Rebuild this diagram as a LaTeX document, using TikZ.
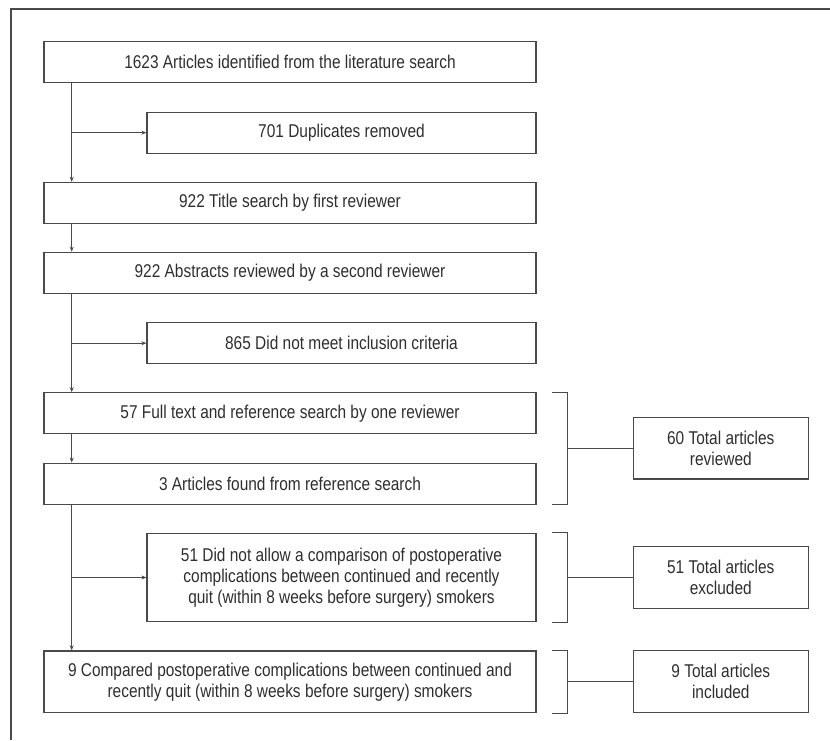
\documentclass[tikz,border=0pt]{standalone}
\usepackage{fontspec}
\setmainfont{Liberation Sans}[FakeStretch=0.835]
\usetikzlibrary{arrows.meta}
\definecolor{txt}{HTML}{2E2E2E}
\definecolor{ln}{HTML}{4A4A4A}
\tikzset{
  box/.style={draw=ln, line width=1.2pt, rectangle, inner sep=0pt, align=center,
    text=txt, font=\fontsize{18.5}{21}\selectfont},
  wide/.style={box, minimum width=492pt, minimum height=41pt},
  side/.style={box, minimum width=389pt, minimum height=41pt},
  tot/.style={box, minimum width=175pt, minimum height=61.7pt},
  conn/.style={draw=ln, line width=1.2pt},
  arr/.style={conn, -{Stealth[length=5pt,width=4pt]}},
}
\begin{document}
\begin{tikzpicture}[x=1pt,y=-1pt]
\useasboundingbox (0,0) rectangle (830,740);
\draw[conn, line width=1.4pt] (11,740) -- (11,9) -- (830,9);

\coordinate (t) at (71.7,0);
\coordinate (bl) at (552.3,0);
\coordinate (br) at (567.3,0);

\node[wide] (b1) at (290,62.2) {1623 Articles identified from the literature search};
\node[side] (b2) at (341.5,132.7) {701 Duplicates removed};
\node[wide] (b3) at (290,202.9) {922 Title search by first reviewer};
\node[wide] (b4) at (290,272.8) {922 Abstracts reviewed by a second reviewer};
\node[side] (b5) at (341.5,343.2) {865 Did not meet inclusion criteria};
\node[wide] (b6) at (290,413.3) {57 Full text and reference search by one reviewer};
\node[wide] (b7) at (290,483.7) {3 Articles found from reference search};
\node[side, minimum height=88.4pt] (b8) at (341.5,577.5) {51 Did not allow a comparison of postoperative\\complications between continued and recently\\quit (within 8 weeks before surgery) smokers};
\node[wide, minimum height=61.7pt] (b9) at (290,681.8) {9 Compared postoperative complications between continued and\\recently quit (within 8 weeks before surgery) smokers};

\node[tot] (r1) at (720.8,448.2) {60 Total articles\\reviewed};
\node[tot] (r2) at (720.8,577.5) {51 Total articles\\excluded};
\node[tot] (r3) at (720.8,681.6) {9 Total articles\\included};

\draw[arr] (b1.south -| t) -- (b3.north -| t);
\draw[arr] (b2.west -| t) -- (b2.west);
\draw[arr] (b3.south -| t) -- (b4.north -| t);
\draw[arr] (b4.south -| t) -- (b6.north -| t);
\draw[arr] (b5.west -| t) -- (b5.west);
\draw[arr] (b6.south -| t) -- (b7.north -| t);
\draw[arr] (b7.south -| t) -- (b9.north -| t);
\draw[arr] (b8.west -| t) -- (b8.west);

\draw[conn] (b6.north -| bl) -- (b6.north -| br) -- (b7.south -| br) -- (b7.south -| bl);
\draw[conn] (r1.west -| br) -- (r1.west);
\draw[conn] (b8.north -| bl) -- (b8.north -| br) -- (b8.south -| br) -- (b8.south -| bl);
\draw[conn] (r2.west -| br) -- (r2.west);
\draw[conn] (b9.north -| bl) -- (b9.north -| br) -- (b9.south -| br) -- (b9.south -| bl);
\draw[conn] (r3.west -| br) -- (r3.west);
\end{tikzpicture}
\end{document}
